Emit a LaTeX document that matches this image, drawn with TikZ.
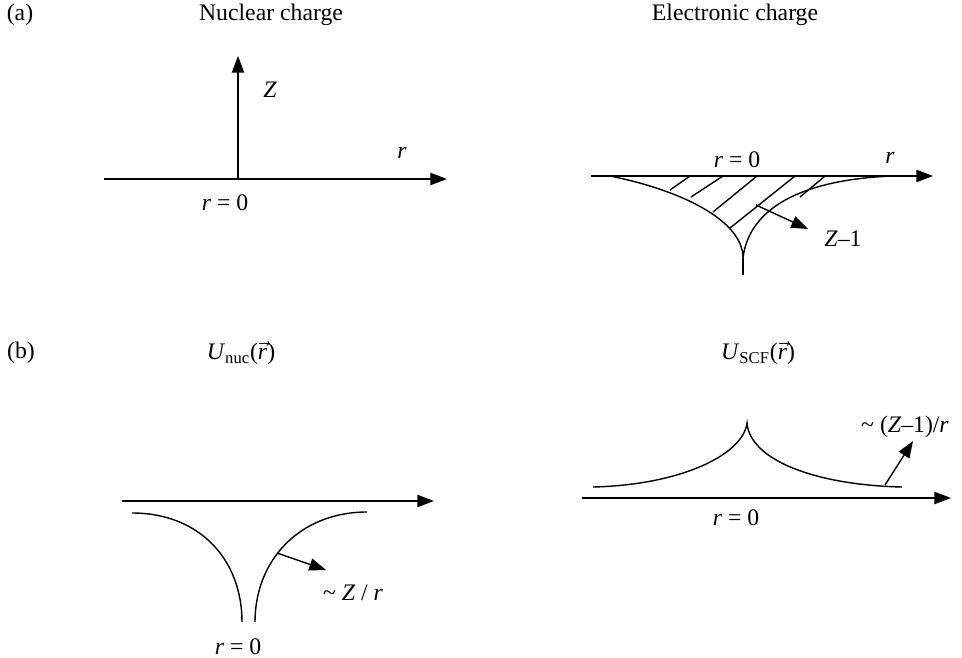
\documentclass[tikz,border=0pt]{standalone}
\usepackage{fontspec}
\setmainfont{Liberation Serif}
\usetikzlibrary{arrows.meta}
\tikzset{
  ln/.style={line width=0.8pt},
  ax/.style={line width=0.8pt,-{Triangle[length=9.5pt,width=7pt]}},
  lbl/.style={inner sep=0pt,font=\fontsize{13.5}{16}\selectfont}
}
\newcommand{\vr}{$\vec{\mbox{\textit{r}}}$}
\begin{document}
\begin{tikzpicture}[x=0.02cm,y=-0.02cm]
\useasboundingbox (0,0) rectangle (962,658);
% ---------- (a) left ----------
\node[lbl] (la) at (20,15) {(a)};
\node[lbl] (t1) at (271,15) {Nuclear charge};
\coordinate (a1s) at (104,179);
\coordinate (a1e) at (447,179);
\coordinate (a1o) at (238,179);
\coordinate (a1z) at (238,56);
\draw[ax] (a1s) -- (a1e);
\draw[ax] (a1o) -- (a1z);
\node[lbl] (zl) at (270,90) {\textit{Z}};
\node[lbl] (rl1) at (402,153) {\textit{r}};
\node[lbl] (r01) at (225,203) {\textit{r} = 0};
% ---------- (a) right ----------
\node[lbl] (t2) at (735,15) {Electronic charge};
\coordinate (a2s) at (591,176);
\coordinate (a2e) at (933,176);
\draw[ax] (a2s) -- (a2e);
\node[lbl] (r02) at (737,160) {\textit{r} = 0};
\node[lbl] (rl2) at (890,158) {\textit{r}};
\coordinate (eL) at (610,176);
\coordinate (eC) at (743,258);
\coordinate (eB) at (743,275);
\coordinate (eR) at (893,176);
\draw[ln] (eL) .. controls (680,190) and (743,220) .. (eC)
  .. controls (748,215) and (790,180) .. (eR);
\draw[ln] (eC) -- (eB);
\foreach \p/\q in {{670,190}/{690,176},{691,197}/{723,176},{713,212}/{757,176},{730,228}/{795,176},{800,197}/{825,176}}
  \draw[ln] (\p) -- (\q);
\coordinate (zs) at (756,205);
\coordinate (zt) at (808,229);
\draw[ax] (zs) -- (zt);
\node[lbl] (zm1) at (843,239) {\textit{Z}–1};
% ---------- (b) left ----------
\node[lbl] (lb) at (21,353) {(b)};
\node[lbl] (t3) at (241,353) {\textit{U}\textsubscript{nuc}(\vr)};
\coordinate (b1s) at (122,501);
\coordinate (b1e) at (434,501);
\draw[ax] (b1s) -- (b1e);
\coordinate (cL1) at (132,513);
\coordinate (cL2) at (242,622);
\coordinate (cR1) at (255,622);
\coordinate (cR2) at (367,512);
\draw[ln] (cL1) .. controls (200,513) and (242,560) .. (cL2);
\draw[ln] (cR1) .. controls (255,560) and (300,512) .. (cR2);
\coordinate (zrs) at (277,553);
\coordinate (zrt) at (326,570);
\draw[ax] (zrs) -- (zrt);
\node[lbl] (zr) at (353,593) {\textasciitilde{} \textit{Z} / \textit{r}};
\node[lbl] (r03) at (238,647) {\textit{r} = 0};
% ---------- (b) right ----------
\node[lbl] (t4) at (758,353) {\textit{U}\textsubscript{SCF}(\vr)};
\coordinate (b2s) at (582,498);
\coordinate (b2e) at (951,498);
\draw[ax] (b2s) -- (b2e);
\coordinate (sL) at (593,487);
\coordinate (sC) at (747,423);
\coordinate (sR) at (902,487);
\draw[ln] (sL) .. controls (680,485) and (743,455) .. (sC)
  .. controls (750,460) and (815,485) .. (sR);
\coordinate (qs) at (885,485);
\coordinate (qt) at (913,441);
\draw[ax] (qs) -- (qt);
\node[lbl] (qz) at (905,427) {\textasciitilde{} (\textit{Z}–1)/\textit{r}};
\node[lbl] (r04) at (736,518) {\textit{r} = 0};
\end{tikzpicture}
\end{document}
